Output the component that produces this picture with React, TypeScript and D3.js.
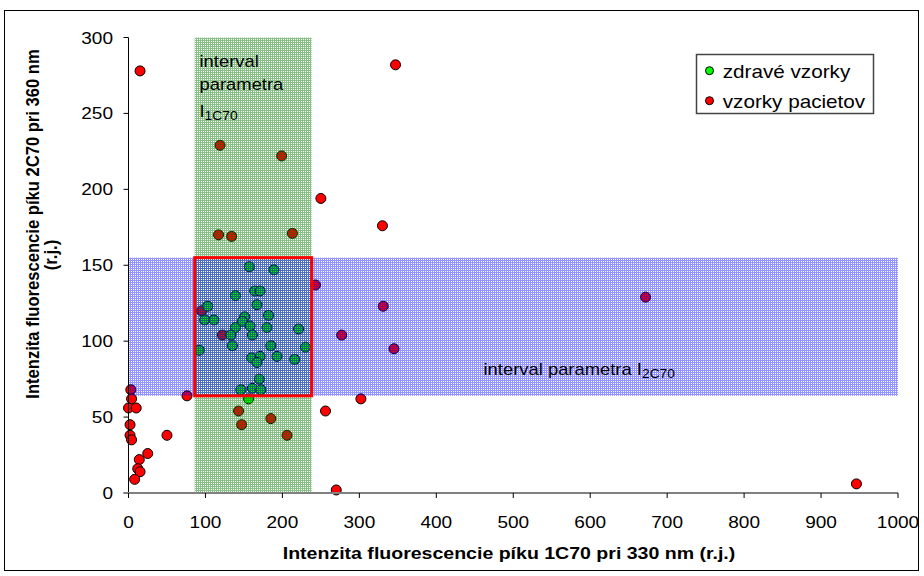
import React from "react";
import { scaleLinear } from "d3";

// zdravé vzorky (healthy samples) [x, y]
const healthy: [number, number][] = [
  [157, 149], [189, 147], [164, 133], [171, 133], [139, 130], [167, 124],
  [103, 123], [182, 117], [99, 114], [111, 114], [151, 116], [148, 113],
  [158, 110], [139, 109], [180, 109], [221, 108], [133, 104], [161, 104],
  [135, 97], [185, 97], [230, 96], [92, 94], [160, 89], [171, 90],
  [193, 90], [216, 88], [167, 86], [170, 75], [146, 68], [161, 69],
  [172, 68], [156, 62],
];

// vzorky pacietov (patient samples) [x, y]
const patients: [number, number][] = [
  [15, 278], [347, 282], [250, 194], [330, 176], [946, 6], [270, 2],
  [302, 62], [256, 54], [331, 123], [277, 104], [345, 95], [672, 129],
  [243, 137], [117, 170], [134, 169], [213, 171], [95, 120], [122, 104],
  [3, 68], [76, 64], [4, 62], [0, 56], [10, 56], [143, 54], [185, 49],
  [119, 229], [199, 222], [2, 45], [2, 38], [4, 35], [50, 38], [25, 26],
  [14, 22], [12, 16], [15, 14], [8, 9], [147, 45], [206, 38],
];

// intervals of the two parameters
const intervalI1 = [86, 238];
const intervalI2 = [64, 155];

const xTicks = [0, 100, 200, 300, 400, 500, 600, 700, 800, 900, 1000];
const yTicks = [0, 50, 100, 150, 200, 250, 300];

const font = "'Liberation Sans', Arial, sans-serif";

// text that is a bit wider than plain Arial, like the source picture
function T({ x, y, size = 17, sx = 1.12, anchor = "start", weight = "normal", rotate = 0, children }: any) {
  return (
    <g transform={`translate(${x},${y}) scale(${sx},1)${rotate ? ` rotate(${rotate})` : ""}`}>
      <text textAnchor={anchor} fontSize={size} fontWeight={weight} fill="#000">
        {children}
      </text>
    </g>
  );
}

export default function App() {
  const x = scaleLinear().domain([0, 1000]).range([128.5, 898]);
  const y = scaleLinear().domain([0, 300]).range([493, 37.5]);

  const r = 5;

  return (
    <svg
      width={924}
      height={576}
      style={{ position: "absolute", left: 0, top: 0, background: "#fff" }}
      fontFamily={font}
    >
      <defs>
        <pattern id="gridGreen" width={2} height={2} patternUnits="userSpaceOnUse">
          <rect x={0} y={0} width={2} height={1} fill="#007800" fillOpacity={0.47} />
          <rect x={0} y={1} width={1} height={1} fill="#007800" fillOpacity={0.47} />
        </pattern>
        <pattern id="gridBlue" width={2} height={2} patternUnits="userSpaceOnUse">
          <rect x={0} y={0} width={2} height={1} fill="#0000ff" fillOpacity={0.42} />
          <rect x={0} y={1} width={1} height={1} fill="#0000ff" fillOpacity={0.42} />
        </pattern>
      </defs>

      {/* outer chart border */}
      <rect x={4.5} y={10.5} width={914} height={560} fill="none" stroke="#000" strokeWidth={1} />

      {/* points */}
      {patients.map((d, i) => (
        <circle key={"p" + i} cx={x(d[0])} cy={y(d[1])} r={r} fill="#ff0000" stroke="#000" strokeWidth={1} />
      ))}
      {healthy.map((d, i) => (
        <circle key={"h" + i} cx={x(d[0])} cy={y(d[1])} r={r} fill="#00ff00" stroke="#000" strokeWidth={1} />
      ))}

      {/* interval bands drawn over the points */}
      <rect
        x={x(intervalI1[0])}
        y={y(300)}
        width={x(intervalI1[1]) - x(intervalI1[0])}
        height={y(0) - y(300)}
        fill="url(#gridGreen)"
      />
      <rect
        x={x(0)}
        y={y(intervalI2[1])}
        width={x(1000) - x(0)}
        height={y(intervalI2[0]) - y(intervalI2[1])}
        fill="url(#gridBlue)"
      />
      <rect
        x={x(intervalI1[0])}
        y={y(intervalI2[1])}
        width={x(intervalI1[1]) - x(intervalI1[0])}
        height={y(intervalI2[0]) - y(intervalI2[1])}
        fill="none"
        stroke="#ff0000"
        strokeWidth={3}
      />

      {/* axes */}
      <line x1={x(0)} x2={x(0)} y1={y(300)} y2={y(0)} stroke="#000" strokeWidth={1} />
      {yTicks.map((t) => (
        <g key={"yt" + t}>
          <line x1={x(0) - 5} x2={x(0)} y1={y(t)} y2={y(t)} stroke="#000" />
          <T x={113} y={y(t) + 6} anchor="end">{t}</T>
        </g>
      ))}
      <line x1={x(0) - 5} x2={x(1000)} y1={y(0)} y2={y(0)} stroke="#808080" strokeWidth={2} />
      {xTicks.map((t) => (
        <g key={"xt" + t}>
          <line x1={x(t)} x2={x(t)} y1={y(0)} y2={y(0) + 5} stroke="#000" />
          <T x={x(t)} y={528} anchor="middle">{t}</T>
        </g>
      ))}

      {/* axis titles */}
      <T x={509} y={559} anchor="middle" weight="bold" sx={1.15}>
        Intenzita fluorescencie píku 1C70 pri 330 nm (r.j.)
      </T>
      <T x={39} y={224} anchor="middle" weight="bold" size={16.6} sx={1.15} rotate={-90}>
        Intenzita fluorescencie píku 2C70 pri 360 nm
      </T>
      <T x={57} y={255} anchor="middle" weight="bold" size={16.6} sx={1.15} rotate={-90}>
        (r.j.)
      </T>

      {/* band annotations */}
      <T x={199.5} y={66.5} size={16} sx={1.15}>interval</T>
      <T x={199.5} y={90} size={16} sx={1.15}>parametra</T>
      <T x={199.5} y={117} size={16} sx={1.15}>
        I<tspan fontSize={12} dy={3}>1C70</tspan>
      </T>
      <T x={483.5} y={375} size={16} sx={1.15}>
        interval parametra I<tspan fontSize={12} dy={3}>2C70</tspan>
      </T>

      {/* legend */}
      <rect x={696.5} y={54.5} width={177} height={59} fill="#fff" stroke="#444" strokeWidth={1.5} />
      <circle cx={709.5} cy={70.7} r={4} fill="#00ff00" stroke="#000" />
      <T x={722.7} y={77.5} size={18} sx={1.15}>zdravé vzorky</T>
      <circle cx={709.5} cy={100.7} r={4} fill="#ff0000" stroke="#000" />
      <T x={722.7} y={107.5} size={18} sx={1.15}>vzorky pacietov</T>
    </svg>
  );
}
